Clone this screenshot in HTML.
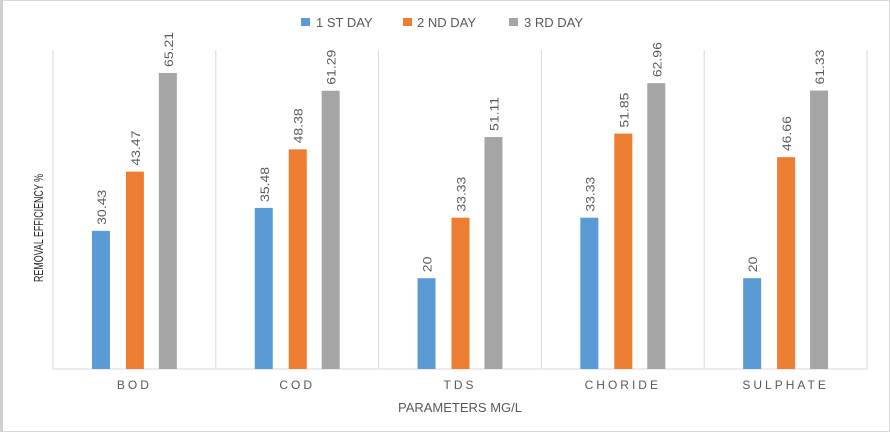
<!DOCTYPE html>
<html><head><meta charset="utf-8"><style>
body{margin:0;background:#fff;}
svg{display:block;font-family:"Liberation Sans",sans-serif;}
</style></head><body>
<svg id="c" width="890" height="432">
<rect x="0.5" y="0.5" width="889" height="431" fill="#fff" stroke="#d9d9d9"/>
<rect x="0" y="0" width="3" height="432" fill="#d0d0d0"/>
<g id="legend">
<rect x="301" y="18" width="9" height="8" fill="#5b9bd5"/>
<text x="316" y="27" font-size="13" fill="#595959">1 ST DAY</text>
<rect x="403" y="18" width="9" height="8" fill="#ed7d31"/>
<text x="417" y="27" font-size="13" fill="#595959">2 ND DAY</text>
<rect x="509" y="18" width="9" height="8" fill="#a5a5a5"/>
<text x="524" y="27" font-size="13" fill="#595959">3 RD DAY</text>
</g>
<text transform="translate(43,228) rotate(-90)" text-anchor="middle" font-size="13" fill="#262626" textLength="108" lengthAdjust="spacingAndGlyphs">REMOVAL EFFICIENCY %</text>
<text x="460" y="412" text-anchor="middle" font-size="13" fill="#595959">PARAMETERS MG/L</text>
<g id="plot"></g>
</svg>
<script>
const categories=["BOD","COD","TDS","CHORIDE","SULPHATE"];
const day1=[30.43,35.48,20,33.33,20];
const day2=[43.47,48.38,33.33,51.85,46.66];
const day3=[65.21,61.29,51.11,62.96,61.33];
const labels1=["30.43","35.48","20","33.33","20"];
const labels2=["43.47","48.38","33.33","51.85","46.66"];
const labels3=["65.21","61.29","51.11","62.96","61.33"];
const NS="http://www.w3.org/2000/svg";
const g=document.getElementById('plot');
const x0=53,x1=867,y0=369,yTop=50,bandW=(x1-x0)/categories.length,pxPer=4.54;
function yS(v){return y0-v*pxPer;}
function xBand(i){return x0+i*bandW;}
function mk(t,a){const e=document.createElementNS(NS,t);for(const k in a)e.setAttribute(k,a[k]);g.appendChild(e);return e;}
for(let i=0;i<=categories.length;i++){
 const l=mk('line',{x1:xBand(i),x2:xBand(i),y1:yTop,y2:y0,stroke:'#d9d9d9'});
 
 
}
const ax=mk('line',{x1:x0,x2:x1,y1:y0,y2:y0,stroke:'#d9d9d9'});


const series=[[day1,labels1,'#5b9bd5',39,'day1'],[day2,labels2,'#ed7d31',73,'day2'],[day3,labels3,'#a5a5a5',106,'day3']];
categories.forEach((c,i)=>{
 const bx=xBand(i);
 series.forEach(s=>{
  const v=s[0][i],x=bx+s[3]*bandW/163;
  const r=mk('rect',{x:x,y:yS(v),width:18,height:y0-yS(v),fill:s[2]});
  
  
  const t=mk('text',{transform:`translate(${x+14},${yS(v)-6}) rotate(-90) scale(1,0.85)`,'font-size':'14',fill:'#595959'});
  t.textContent=s[1][i];
  
  
 });
 const t=mk('text',{x:bx+bandW/2,y:389,'text-anchor':'middle','font-size':'12',fill:'#595959','letter-spacing':'3'});
 t.textContent=c;
 
 
});
</script>
</body></html>
